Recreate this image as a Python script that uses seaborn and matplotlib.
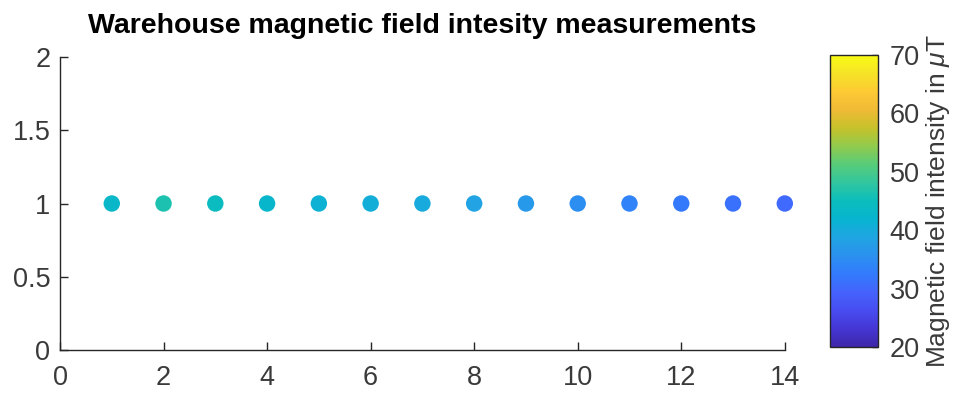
import numpy as np
import pandas as pd
import matplotlib
matplotlib.use("Agg")
import matplotlib.pyplot as plt
import seaborn as sns
from matplotlib.colors import LinearSegmentedColormap, Normalize
from matplotlib.cm import ScalarMappable

# Data
positions = [1, 2, 3, 4, 5, 6, 7, 8, 9, 10, 11, 12, 13, 14]
heights = [1, 1, 1, 1, 1, 1, 1, 1, 1, 1, 1, 1, 1, 1]
intensity = [43.0, 46.5, 44.6, 42.6, 41.2, 40.6, 39.8, 38.4, 36.8, 35.2, 33.6, 32.3, 31.2, 30.2]
cbar_ticks = [20, 30, 40, 50, 60, 70]

df = pd.DataFrame({"x": positions, "y": heights, "B": intensity})

# parula-like colormap (style)
parula_pts = [
    (0.2422, 0.1504, 0.6603), (0.2706, 0.2147, 0.8364), (0.2813, 0.3006, 0.9414),
    (0.2699, 0.3892, 0.9906), (0.1963, 0.4847, 0.9892), (0.1687, 0.5703, 0.9359),
    (0.1248, 0.6459, 0.8883), (0.0297, 0.7082, 0.8163), (0.0433, 0.7411, 0.7394),
    (0.1938, 0.7758, 0.6251), (0.3406, 0.8008, 0.4789), (0.5616, 0.7942, 0.3045),
    (0.7738, 0.7598, 0.1646), (0.9393, 0.7288, 0.2100), (0.9952, 0.7893, 0.2028),
    (0.9610, 0.8890, 0.1537), (0.9769, 0.9839, 0.0805),
]
parula = LinearSegmentedColormap.from_list("parula", parula_pts, N=256)

sns.set_theme(style="white")
plt.rcParams['font.family'] = ['Liberation Sans', 'DejaVu Sans']
plt.rcParams['mathtext.fontset'] = 'custom'
plt.rcParams['mathtext.it'] = 'Liberation Sans:italic'
plt.rcParams['mathtext.rm'] = 'Liberation Sans'

GRAY = "#3a3a3a"

fig = plt.figure(figsize=(9.6, 4.0), dpi=100)
ax = fig.add_axes([0.0625, 0.125, 0.755, 0.7325])
norm = Normalize(vmin=20, vmax=70)
sns.scatterplot(data=df, x="x", y="y", hue="B", palette=parula, hue_norm=norm,
                s=140, linewidth=0, legend=False, ax=ax, zorder=3, clip_on=False)

ax.set_xlim(0, 14)
ax.set_ylim(0, 2)
ax.set_xticks([0, 2, 4, 6, 8, 10, 12, 14])
ax.set_yticks([0, 0.5, 1, 1.5, 2])
ax.set_yticklabels(["0", "0.5", "1", "1.5", "2"])
ax.set_xlabel("")
ax.set_ylabel("")
for s in ["top", "right"]:
    ax.spines[s].set_visible(False)
for s in ["left", "bottom"]:
    ax.spines[s].set_color("#262626")
    ax.spines[s].set_linewidth(1.0)
ax.tick_params(axis="both", which="major", bottom=True, left=True, direction="in",
               length=6, width=1.0, color="#262626", labelsize=19.5, labelcolor=GRAY)
ax.tick_params(axis="x", pad=11)
ax.tick_params(axis="y", pad=7)
ax.set_title("Warehouse magnetic field intesity measurements", fontsize=20.5,
             fontweight="bold", color="black", pad=17)

cax = fig.add_axes([0.865, 0.1325, 0.05, 0.73])
sm = ScalarMappable(norm=norm, cmap=parula)
cb = fig.colorbar(sm, cax=cax, ticks=cbar_ticks)
cb.outline.set_edgecolor("#262626")
cb.outline.set_linewidth(1.0)
cax.tick_params(right=True, direction="in", length=4, width=1.0, color="#262626",
                labelsize=19.5, labelcolor=GRAY, pad=8)
cb.set_label(r"Magnetic field intensity in $\mu$T", fontsize=19, color=GRAY, labelpad=3)

fig.savefig("out.png", dpi=100)
